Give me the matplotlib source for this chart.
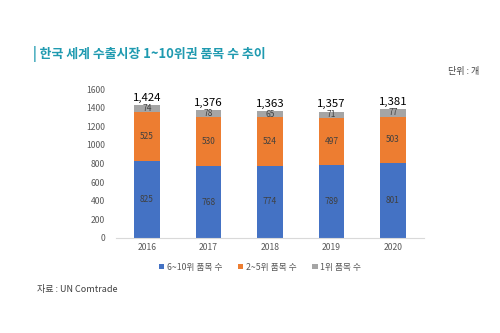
import matplotlib.pyplot as plt
import numpy as np

plt.rcParams['font.family'] = ['Noto Sans CJK KR', 'DejaVu Sans']

years = ['2016', '2017', '2018', '2019', '2020']
rank_6_10 = [825, 768, 774, 789, 801]
rank_2_5 = [525, 530, 524, 497, 503]
rank_1 = [74, 78, 65, 71, 77]
totals = [1424, 1376, 1363, 1357, 1381]
series_names = ['6~10위 품목 수', '2~5위 품목 수', '1위 품목 수']
colors = ['#4472C4', '#ED7D31', '#A5A5A5']

fig = plt.figure(figsize=(5, 3.33), dpi=100)
ax = fig.add_axes([0.2325, 0.2853, 0.615, 0.4474])

x = np.arange(len(years))
bottom = np.zeros(len(years))
for vals, name, c in zip([rank_6_10, rank_2_5, rank_1], series_names, colors):
    ax.bar(x, vals, width=0.41, bottom=bottom, color=c, label=name)
    for xi, b, v in zip(x, bottom, vals):
        ax.text(xi, b + v / 2, str(v), ha='center', va='center',
                fontsize=6, color='#404040')
    bottom += np.array(vals)

for xi, t in zip(x, totals):
    ax.text(xi, t + 25, f'{t:,}', ha='center', va='bottom', fontsize=8.2, color='black')

ax.set_xlim(-0.5, len(years) - 0.5)
ax.set_ylim(0, 1600)
ax.set_yticks(range(0, 1601, 200))
ax.set_xticks(x)
ax.set_xticklabels(years)
ax.tick_params(axis='both', labelsize=6.2, colors='#595959', length=0)
ax.tick_params(axis='y', pad=8)
for s in ['top', 'right', 'left']:
    ax.spines[s].set_visible(False)
ax.spines['bottom'].set_color('#D9D9D9')

fig.legend(loc='center', bbox_to_anchor=(0.52, 0.198), ncol=3, frameon=False,
           fontsize=6.3, handlelength=0.6, handleheight=0.6, handletextpad=0.3,
           columnspacing=1.8, labelcolor='#595959')

fig.text(0.066, 0.838, '| 한국 세계 수출시장 1~10위권 품목 수 추이', fontsize=9.3,
         fontweight='bold', color='#1F9AB0', va='center')
fig.text(0.958, 0.784, '단위 : 개', fontsize=6.5, color='#404040', ha='right', va='center')
fig.text(0.074, 0.13, '자료 : UN Comtrade', fontsize=6.5, color='#404040', va='center')

fig.savefig('out.png', dpi=100)
